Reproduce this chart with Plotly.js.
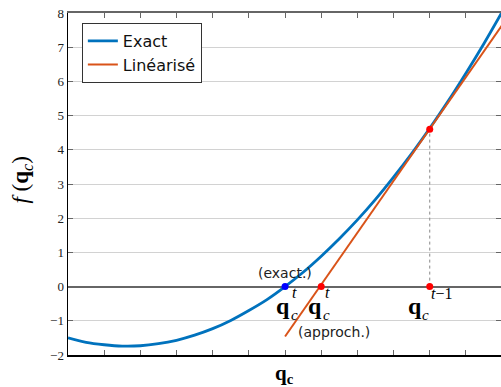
<!DOCTYPE html>
<html><head><meta charset="utf-8">
<script src="https://cdn.plot.ly/plotly-3.0.1.min.js"></script>
<style>html,body{margin:0;padding:0;overflow:hidden;background:#fff}</style>
</head><body>
<div id="chart" style="width:501px;height:387px"></div>
<script>
// Exact curve
const exactX = [0,0.5,1,1.5,2,2.5,3,3.5,4,4.5,5,5.5,6,6.5,7,7.5,8,8.5,9,9.5,10,10.5,11,11.5,12];
const exactY = [-1.50,-1.63,-1.70,-1.74,-1.73,-1.67,-1.57,-1.42,-1.23,-0.99,-0.70,-0.38,0.00,0.42,0.89,1.40,1.95,2.55,3.20,3.89,4.63,5.41,6.24,7.11,8.03];
// Linearised (tangent) line
const linX = [6, 12];
const linY = [-1.46, 7.64];
// Points
const exactRootX = [6], exactRootY = [0];
const approxRootX = [7, 10], approxRootY = [0, 0];
const prevX = [10], prevY = [4.6];
const dropX = [10, 10], dropY = [0, 4.6];
const yTicks = [-2,-1,0,1,2,3,4,5,6,7,8];
const xTicks = [0,1,2,3,4,5,6,7,8,9,10,11,12];

const serif = "Liberation Serif, DejaVu Serif, serif";
const sans = "DejaVu Sans, sans-serif";
const blue = "#0072BD", orange = "#D95319";

const traces = [
  {x: dropX, y: dropY, mode: "lines", line: {color: "#888", width: 1, dash: "dot"}, showlegend: false, hoverinfo: "skip"},
  {x: exactX, y: exactY, mode: "lines", name: "Exact", line: {color: blue, width: 2.8, shape: "spline"}},
  {x: linX, y: linY, mode: "lines", name: "Linéarisé", line: {color: orange, width: 2}},
  {x: exactRootX, y: exactRootY, mode: "markers", marker: {color: "#0000ff", size: 7}, showlegend: false},
  {x: approxRootX, y: approxRootY, mode: "markers", marker: {color: "#ff0000", size: 7}, showlegend: false},
  {x: prevX, y: prevY, mode: "markers", marker: {color: "#ff0000", size: 7}, showlegend: false},
  {x: [null], y: [null], xaxis: "x2", yaxis: "y2", showlegend: false}
];

function ann(x, y, text, size, xs, ys, fam, extra) {
  return Object.assign({x: x, y: y, xref: "x", yref: "y", text: text, showarrow: false,
    xshift: xs, yshift: ys, font: {family: fam, size: size, color: "#000"}}, extra || {});
}

const annotations = [
  ann(6, 0, "(exact.)", 14, 0, 14, sans, {font: {family: sans, size: 14, color: "#222"}}),
  ann(7, 0, "(approch.)", 14, 13, -45, sans, {font: {family: sans, size: 14, color: "#222"}}),
  // q_c^t exact
  ann(6, 0, "<b>q</b>", 24, -2, -19, serif),
  ann(6, 0, "<i>c</i>", 15, 9, -28, serif),
  ann(6, 0, "<i>t</i>", 16, 9, -6, serif),
  // q_c^t approx
  ann(7, 0, "<b>q</b>", 24, -6, -19, serif),
  ann(7, 0, "<i>c</i>", 15, 5, -28, serif),
  ann(7, 0, "<i>t</i>", 16, 6, -6, serif),
  // q_c^{t-1}
  ann(10, 0, "<b>q</b>", 24, -15, -19, serif),
  ann(10, 0, "<i>c</i>", 15, -4, -28, serif),
  ann(10, 0, "<i>t</i>−1", 16, 12, -7, serif),
  // axis titles
  {x: 0.5, y: 0, xref: "paper", yref: "paper", yanchor: "middle", yshift: -19, showarrow: false,
   text: "<b>q<sub>c</sub></b>", font: {family: serif, size: 21, color: "#000"}},
  {x: 0, y: 0.51, xref: "paper", yref: "paper", xanchor: "center", xshift: -46, showarrow: false, textangle: -90,
   text: "<i>f</i> (<b>q</b><sub><i>c</i></sub>)", font: {family: serif, size: 23, color: "#000"}}
];

const layout = {
  width: 501, height: 387,
  margin: {l: 68, r: 0, t: 13, b: 32},
  paper_bgcolor: "#fff", plot_bgcolor: "#fff",
  showlegend: true,
  legend: {x: 0.032, y: 0.971, xanchor: "left", yanchor: "top", bgcolor: "#fff",
    bordercolor: "#333", borderwidth: 1, font: {family: sans, size: 16, color: "#111"},
    tracegroupgap: 0},
  xaxis: {range: [0, 11.97], tickvals: xTicks, showticklabels: false, ticks: "inside", ticklen: 5,
    tickcolor: "#666", showgrid: false, zeroline: false, showline: true, linecolor: "#000", linewidth: 1.5},
  yaxis: {range: [-2, 8], tickvals: yTicks, ticktext: yTicks.map(v => v < 0 ? "−" + Math.abs(v) : String(v)),
    ticks: "inside", ticklen: 5, tickcolor: "#666", showgrid: true, gridcolor: "#d2d2d2", gridwidth: 1,
    zeroline: true, zerolinecolor: "#666", zerolinewidth: 2, showline: true, linecolor: "#000", linewidth: 1.5,
    tickfont: {family: serif, size: 13, color: "#222"}},
  xaxis2: {overlaying: "x", side: "top", range: [0, 11.97], tickvals: xTicks, showticklabels: false,
    ticks: "inside", ticklen: 5, tickcolor: "#666", showgrid: false, zeroline: false, showline: true,
    linecolor: "#666", linewidth: 2},
  yaxis2: {overlaying: "y", side: "right", range: [-2, 8], tickvals: yTicks, showticklabels: false,
    ticks: "inside", ticklen: 5, tickcolor: "#666", showgrid: false, zeroline: false, showline: false},
  annotations: annotations
};

Plotly.newPlot("chart", traces, layout, {displayModeBar: false, staticPlot: true});
</script>
</body></html>
